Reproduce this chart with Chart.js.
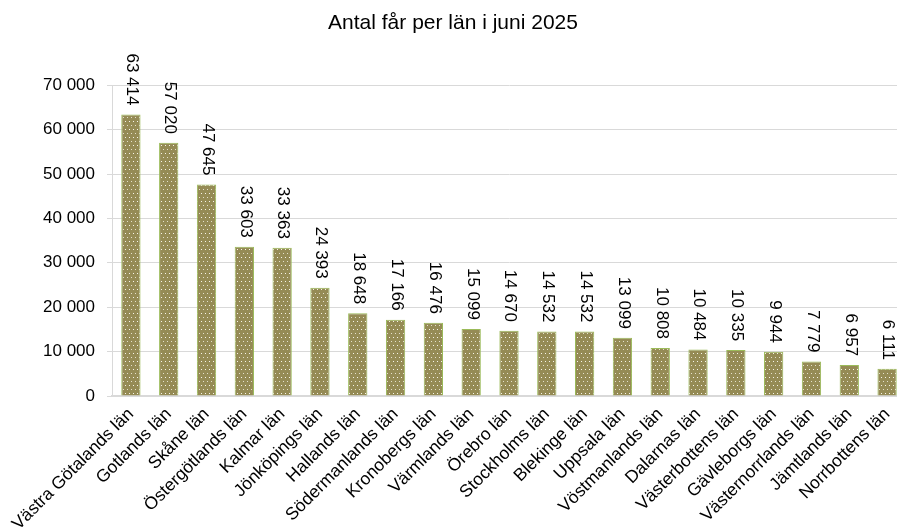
<!DOCTYPE html>
<html>
<head>
<meta charset="utf-8">
<script src="https://cdn.jsdelivr.net/npm/chart.js@4.4.1/dist/chart.umd.min.js"></script>
<style>
  body { margin: 0; overflow: hidden; background: #fff; }
  #wrap { width: 916px; height: 531px; }
</style>
</head>
<body>
<div id="wrap"><canvas id="grafFar"></canvas></div>
<script>
// data - antal får per län, juni 2025
const lan = [
  'Västra Götalands län', 'Gotlands län', 'Skåne län', 'Östergötlands län',
  'Kalmar län', 'Jönköpings län', 'Hallands län', 'Södermanlands län',
  'Kronobergs län', 'Värmlands län', 'Örebro län', 'Stockholms län',
  'Blekinge län', 'Uppsala län', 'Vöstmanlands län', 'Dalarnas län',
  'Västerbottens län', 'Gävleborgs län', 'Västernorrlands län',
  'Jämtlands län', 'Norrbottens län'
];
const antalFar = [
  63414, 57020, 47645, 33603, 33363, 24393, 18648, 17166, 16476, 15099,
  14670, 14532, 14532, 13099, 10808, 10484, 10335, 9944, 7779, 6957, 6111
];
const yTicks = [0, 10000, 20000, 30000, 40000, 50000, 60000, 70000];

const fmt = v => String(v).replace(/\B(?=(\d{3})+(?!\d))/g, ' ');

// prickigt mönster för staplarna
function monster() {
  const c = document.createElement('canvas');
  c.width = 4; c.height = 8;
  const g = c.getContext('2d');
  g.fillStyle = '#958b55';
  g.fillRect(0, 0, 4, 8);
  g.fillStyle = '#f6f4ea';
  g.fillRect(1, 1, 1, 1);
  g.fillStyle = '#e4e0cc';
  g.fillRect(3, 5, 1, 1);
  return g.createPattern(c, 'repeat');
}

// värden ovanför staplarna, roterade
const vardeEtiketter = {
  id: 'vardeEtiketter',
  afterDatasetsDraw(chart) {
    const ctx = chart.ctx;
    const meta = chart.getDatasetMeta(0);
    ctx.save();
    ctx.font = '17px "Liberation Sans", Arial, sans-serif';
    ctx.fillStyle = '#000';
    ctx.textAlign = 'right';
    ctx.textBaseline = 'middle';
    meta.data.forEach((bar, i) => {
      ctx.save();
      ctx.translate(bar.x + 1, bar.y - 9);
      ctx.rotate(Math.PI / 2);
      ctx.fillText(fmt(antalFar[i]), 0, 0);
      ctx.restore();
    });
    ctx.restore();
  }
};

Chart.defaults.font.family = '"Liberation Sans", Arial, sans-serif';
Chart.defaults.color = '#000';

const ctx = document.getElementById('grafFar').getContext('2d');

new Chart(ctx, {
  type: 'bar',
  data: {
    labels: lan,
    datasets: [{
      data: antalFar,
      backgroundColor: monster(),
      borderColor: '#9bbb59',
      borderWidth: 1,
      categoryPercentage: 1,
      barPercentage: 0.51
    }]
  },
  options: {
    responsive: true,
    maintainAspectRatio: false,
    animation: false,
    layout: { padding: { left: 0, right: 10, top: 0, bottom: 0 } },
    scales: {
      x: {
        grid: { display: false, drawTicks: false },
        border: { color: '#d9d9d9', width: 2 },
        ticks: {
          autoSkip: false,
          maxRotation: 45,
          minRotation: 45,
          padding: 8,
          font: { size: 17.5 }
        },
        afterFit: s => { s.height = 135; }
      },
      y: {
        min: 0,
        max: 70000,
        afterBuildTicks: s => { s.ticks = yTicks.map(v => ({ value: v })); },
        grid: { color: '#d9d9d9', tickLength: 5 },
        border: { color: '#d9d9d9' },
        ticks: {
          padding: 12,
          font: { size: 17 },
          callback: v => fmt(v)
        },
        afterFit: s => { s.width = 112; }
      }
    },
    plugins: {
      legend: { display: false },
      tooltip: { enabled: false },
      title: {
        display: true,
        text: 'Antal får per län i juni 2025',
        font: { size: 21, weight: 'normal' },
        color: '#000',
        padding: { top: 11, bottom: 49 }
      }
    }
  },
  plugins: [vardeEtiketter]
});
</script>
</body>
</html>
